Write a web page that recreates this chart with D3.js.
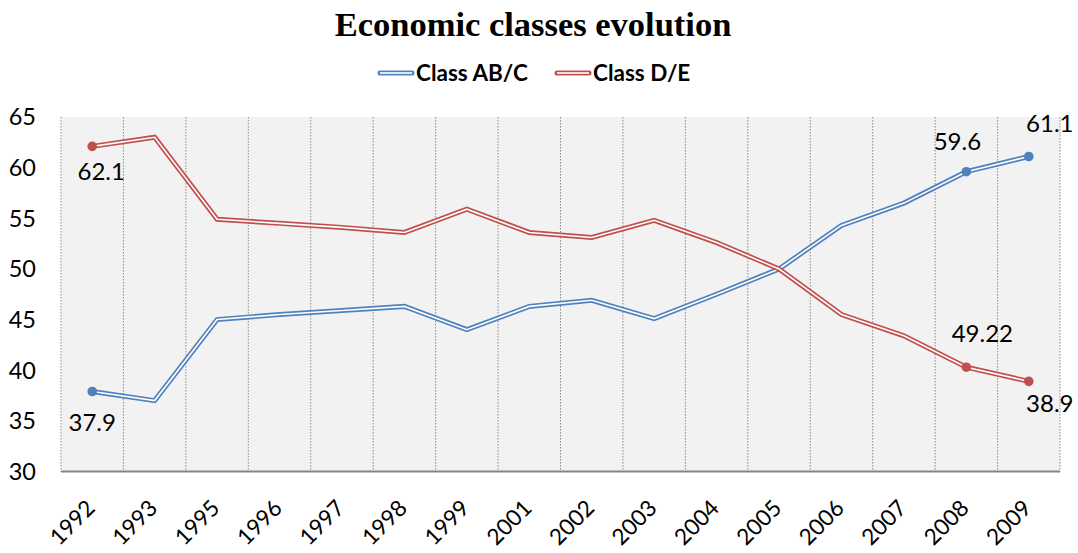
<!DOCTYPE html>
<html><head><meta charset="utf-8">
<script src="https://cdn.jsdelivr.net/npm/d3@7"></script>
<style>body{margin:0;background:#fff}svg{display:block}</style>
</head><body>
<svg id="chart" width="1078" height="553"></svg>
<script>
const categories = ["1992","1993","1995","1996","1997","1998","1999","2001","2002","2003","2004","2005","2006","2007","2008","2009"];
const classABC = [37.9,37.0,45.0,45.5,45.9,46.3,44.0,46.3,46.9,45.1,47.5,50.0,54.3,56.5,59.6,61.1];
const classDE  = [62.1,63.0,54.9,54.5,54.1,53.6,55.9,53.6,53.1,54.8,52.6,50.0,45.5,43.4,40.3,38.9];
const yTicks = [30,35,40,45,50,55,60,65];
const seriesNames = ["Class AB/C","Class D/E"];
const colors = ["#4F81BD","#C0504D"];
// data labels: [series index, category index, text]
const dataLabels = [
  [1,0,"62.1"],[0,0,"37.9"],
  [0,14,"59.6"],[0,15,"61.1"],
  [1,14,"49.22"],[1,15,"38.9"]
];
// label placement offsets (dx, dy of baseline centre from the point)
const labelOffsets = [[9,34],[0,40],[-9,-22],[21,-25],[16,-25],[21,31]];

const svg = d3.select("#chart");
const m = {left:61, right:1060, top:117, bottom:471.5};
const x = d3.scaleBand().domain(categories).range([m.left, m.right]);
const y = d3.scaleLinear().domain([30,65]).range([m.bottom, m.top]);
const font = "Lato, 'Open Sans', sans-serif";
const fs = 23.5;

// plot background
svg.append("rect").attr("x",m.left).attr("y",m.top).attr("width",m.right-m.left).attr("height",m.bottom-m.top).attr("fill","#F2F2F2");

// vertical dotted gridlines at band boundaries
const bounds = categories.map(c=>x(c)).concat([m.right]);
svg.append("g").selectAll("line").data(bounds).join("line")
  .attr("x1",d=>d).attr("x2",d=>d).attr("y1",m.top).attr("y2",m.bottom)
  .attr("stroke","#8c8c8c").attr("stroke-width",1).attr("stroke-dasharray","1.5,1.5");

// bottom axis line
svg.append("line").attr("x1",m.left).attr("x2",m.right).attr("y1",m.bottom).attr("y2",m.bottom)
  .attr("stroke","#868686").attr("stroke-width",2.2);

// y tick labels
svg.append("g").selectAll("text").data(yTicks).join("text")
  .attr("x",36).attr("y",d=>y(d)).attr("dy","0.36em").attr("text-anchor","end")
  .attr("font-family",font).attr("font-size",fs).attr("fill","#000").text(d=>d);

// x tick labels rotated
svg.append("g").selectAll("text").data(categories).join("text")
  .attr("transform",d=>`translate(${x(d)+x.bandwidth()/2+4},${m.bottom+38}) rotate(-45)`)
  .attr("text-anchor","end")
  .attr("font-family",font).attr("font-size",22.5).attr("fill","#000").text(d=>d);

// lines (double style)
const line = d3.line().x((d,i)=>x(categories[i])+x.bandwidth()/2).y(d=>y(d));
[classABC, classDE].forEach((vals,si)=>{
  svg.append("path").attr("d",line(vals)).attr("fill","none").attr("stroke",colors[si]).attr("stroke-width",5).attr("stroke-linejoin","miter");
  svg.append("path").attr("d",line(vals)).attr("fill","none").attr("stroke","#fff").attr("stroke-width",1.6).attr("stroke-linejoin","miter");
});

// markers & labels
const all = [classABC, classDE];
dataLabels.forEach(([si,ci,t],k)=>{
  const cx = x(categories[ci])+x.bandwidth()/2, cy = y(all[si][ci]);
  svg.append("circle").attr("cx",cx).attr("cy",cy).attr("r",4.8).attr("fill",colors[si]);
  svg.append("text").attr("x",cx+labelOffsets[k][0]).attr("y",cy+labelOffsets[k][1])
    .attr("text-anchor","middle").attr("font-family",font).attr("font-size",24).attr("fill","#000").text(t);
});

// title
svg.append("text").attr("x",533).attr("y",36).attr("text-anchor","middle")
  .attr("font-family","'Liberation Serif','Times New Roman',serif").attr("font-weight","bold").attr("font-size",34.5).text("Economic classes evolution");

// legend
const lg = svg.append("g");
const legendItems = [{x:378, name:seriesNames[0], c:colors[0]},{x:555, name:seriesNames[1], c:colors[1]}];
legendItems.forEach(it=>{
  lg.append("line").attr("x1",it.x+2).attr("x2",it.x+34).attr("y1",73).attr("y2",73).attr("stroke",it.c).attr("stroke-width",5).attr("stroke-linecap","round");
  lg.append("line").attr("x1",it.x+2).attr("x2",it.x+34).attr("y1",73).attr("y2",73).attr("stroke","#fff").attr("stroke-width",1.6);
  lg.append("text").attr("x",it.x+38).attr("y",73).attr("dy","0.36em").attr("font-family",font).attr("font-weight","bold").attr("font-size",22.5).text(it.name);
});
</script>
</body></html>
